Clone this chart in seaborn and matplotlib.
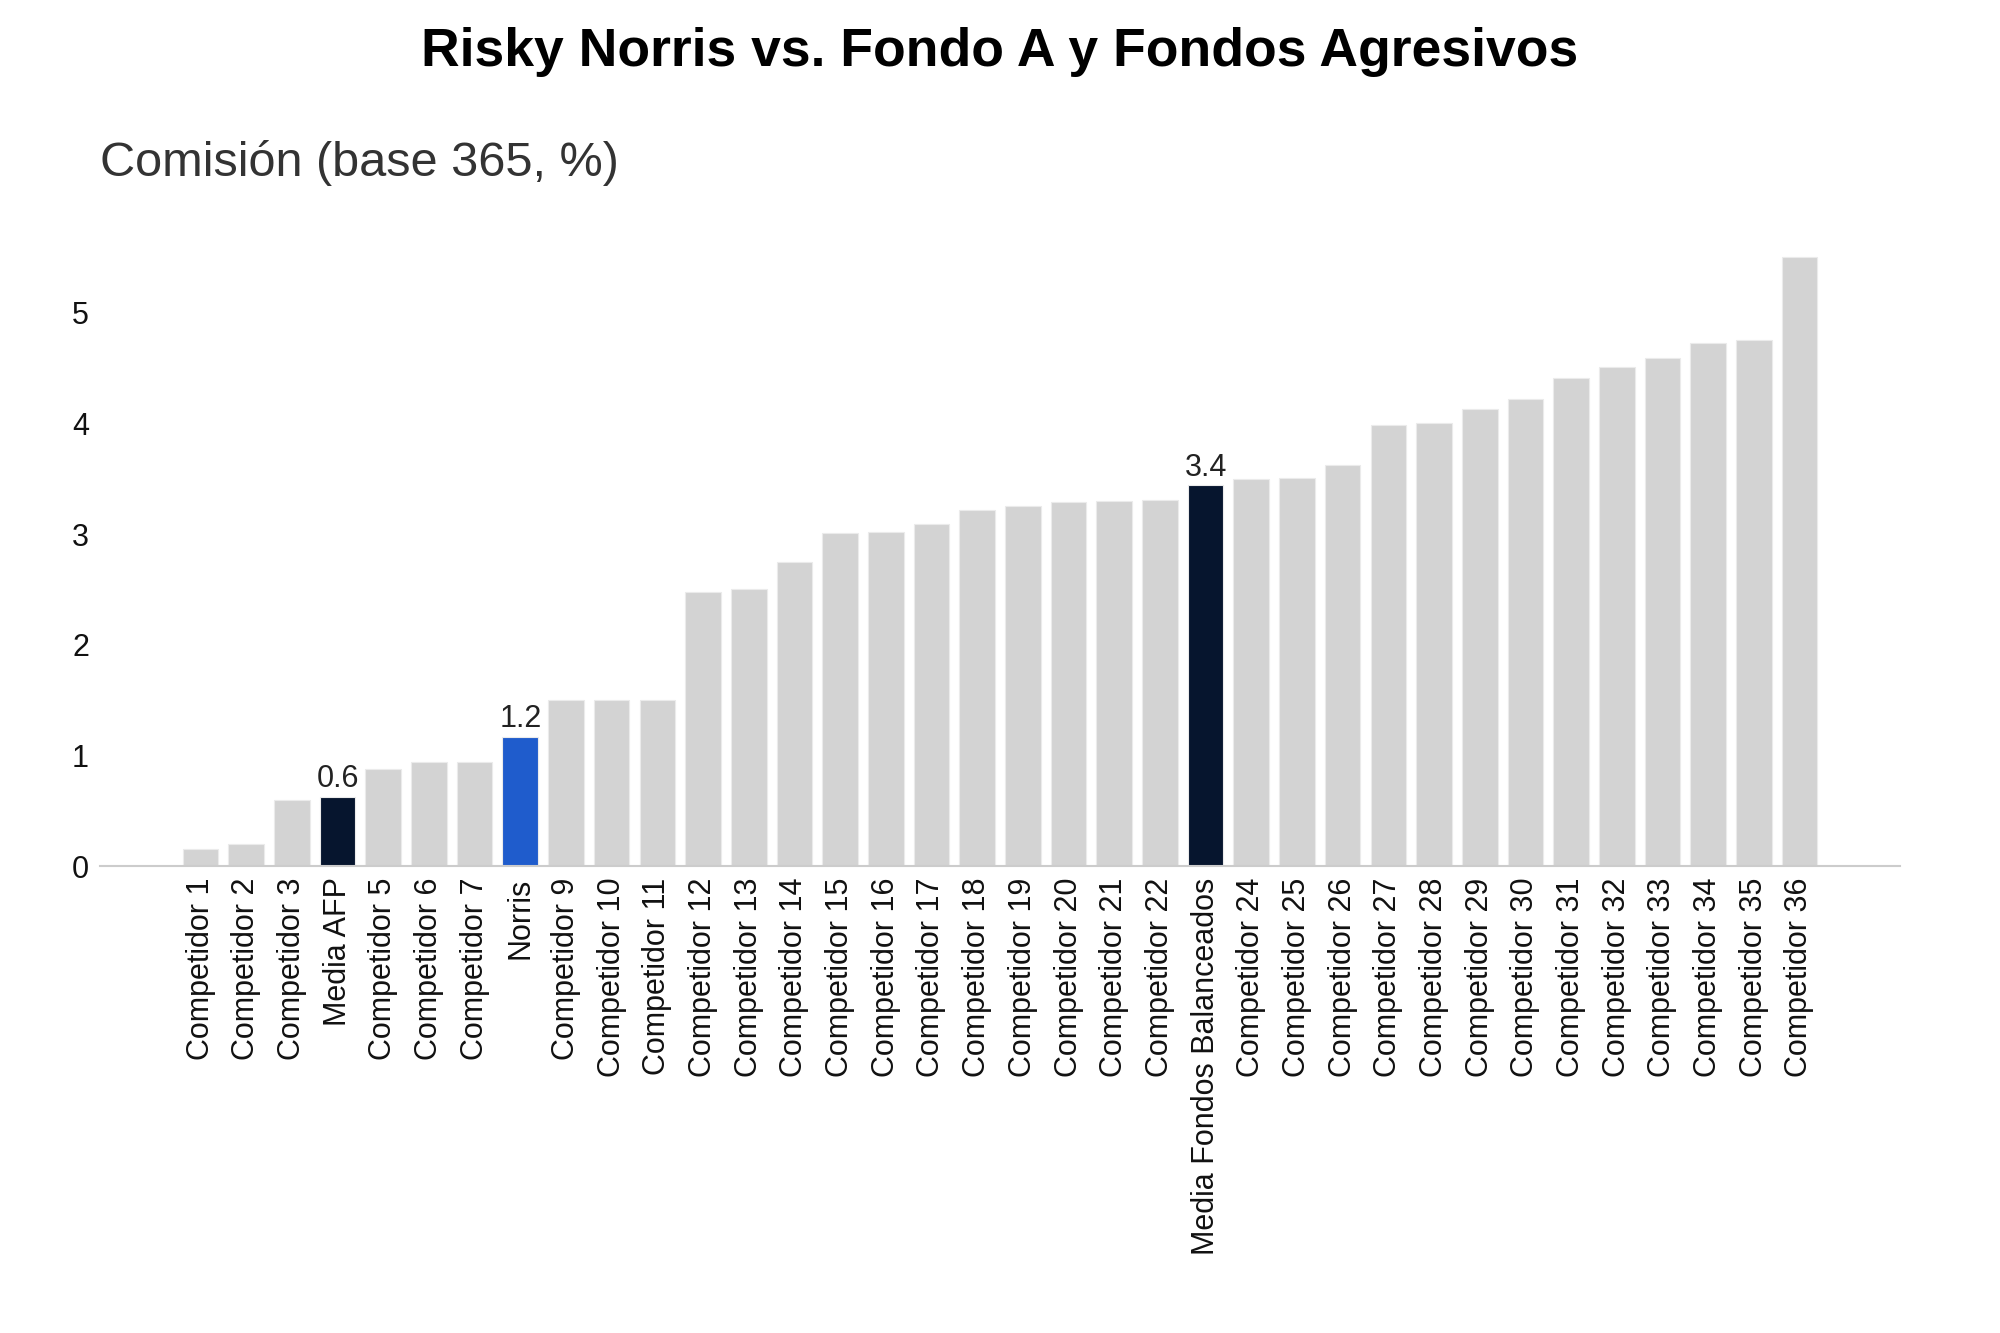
import matplotlib
matplotlib.use("Agg")
import matplotlib.pyplot as plt
import seaborn as sns
import pandas as pd

# ---- data ----
categories = [
    "Competidor 1", "Competidor 2", "Competidor 3", "Media AFP",
    "Competidor 5", "Competidor 6", "Competidor 7", "Norris",
    "Competidor 9", "Competidor 10", "Competidor 11", "Competidor 12",
    "Competidor 13", "Competidor 14", "Competidor 15", "Competidor 16",
    "Competidor 17", "Competidor 18", "Competidor 19", "Competidor 20",
    "Competidor 21", "Competidor 22", "Media Fondos Balanceados", "Competidor 24",
    "Competidor 25", "Competidor 26", "Competidor 27", "Competidor 28",
    "Competidor 29", "Competidor 30", "Competidor 31", "Competidor 32",
    "Competidor 33", "Competidor 34", "Competidor 35", "Competidor 36",
]
values = [
    0.16, 0.20, 0.60, 0.63, 0.88, 0.94, 0.94, 1.17,
    1.50, 1.50, 1.50, 2.48, 2.50, 2.75, 3.01, 3.02,
    3.09, 3.22, 3.25, 3.29, 3.30, 3.31, 3.44, 3.50,
    3.51, 3.62, 3.98, 4.00, 4.13, 4.22, 4.41, 4.51,
    4.59, 4.72, 4.75, 5.50,
]
highlight_colors = {
    "Media AFP": "#06152E",
    "Norris": "#1F5CCC",
    "Media Fondos Balanceados": "#06152E",
}
base_color = "#D3D3D3"
labelled = ["Media AFP", "Norris", "Media Fondos Balanceados"]
y_ticks = [0, 1, 2, 3, 4, 5]
title = "Risky Norris vs. Fondo A y Fondos Agresivos"
subtitle = "Comisión (base 365, %)"

df = pd.DataFrame({"categoria": categories, "valor": values})
palette = {c: highlight_colors.get(c, base_color) for c in categories}

sns.set_theme(style="white")
plt.rcParams["font.family"] = ["Liberation Sans", "DejaVu Sans"]

fig = plt.figure(figsize=(20, 13.33), dpi=100)
ax = fig.add_axes([0.05, 0.35, 0.90, 0.48])

sns.barplot(
    data=df, x="categoria", y="valor", hue="categoria",
    order=categories, hue_order=categories, palette=palette,
    legend=False, width=0.78, edgecolor="#EBEBEB", linewidth=0.8,
    saturation=1, ax=ax,
)

for cat, cont in zip(categories, ax.containers):
    if cat in labelled:
        v = values[categories.index(cat)]
        ax.bar_label(cont, labels=[f"{v:.1f}"], padding=2,
                     fontsize=22, color="#222222")

ax.set_xlim(-2.2, len(categories) - 1 + 2.2)
ax.set_ylim(0, 5.775)
ax.set_yticks(y_ticks)
ax.set_xlabel("")
ax.set_ylabel("")
for s in ["top", "right", "left"]:
    ax.spines[s].set_visible(False)
ax.spines["bottom"].set_color("#CCCCCC")
ax.spines["bottom"].set_linewidth(1.5)
ax.tick_params(axis="x", rotation=90, labelsize=22, length=0, pad=8,
               labelcolor="#111111")
ax.tick_params(axis="y", labelsize=22, length=0, pad=8, labelcolor="#111111")
ax.grid(False)

fig.text(0.5, 0.961, title, ha="center", va="center",
         fontsize=38.5, fontweight="bold", color="black")
fig.text(0.05, 0.878, subtitle, ha="left", va="center",
         fontsize=35, color="#333333")

fig.savefig("out.png", dpi=100, facecolor="white")
